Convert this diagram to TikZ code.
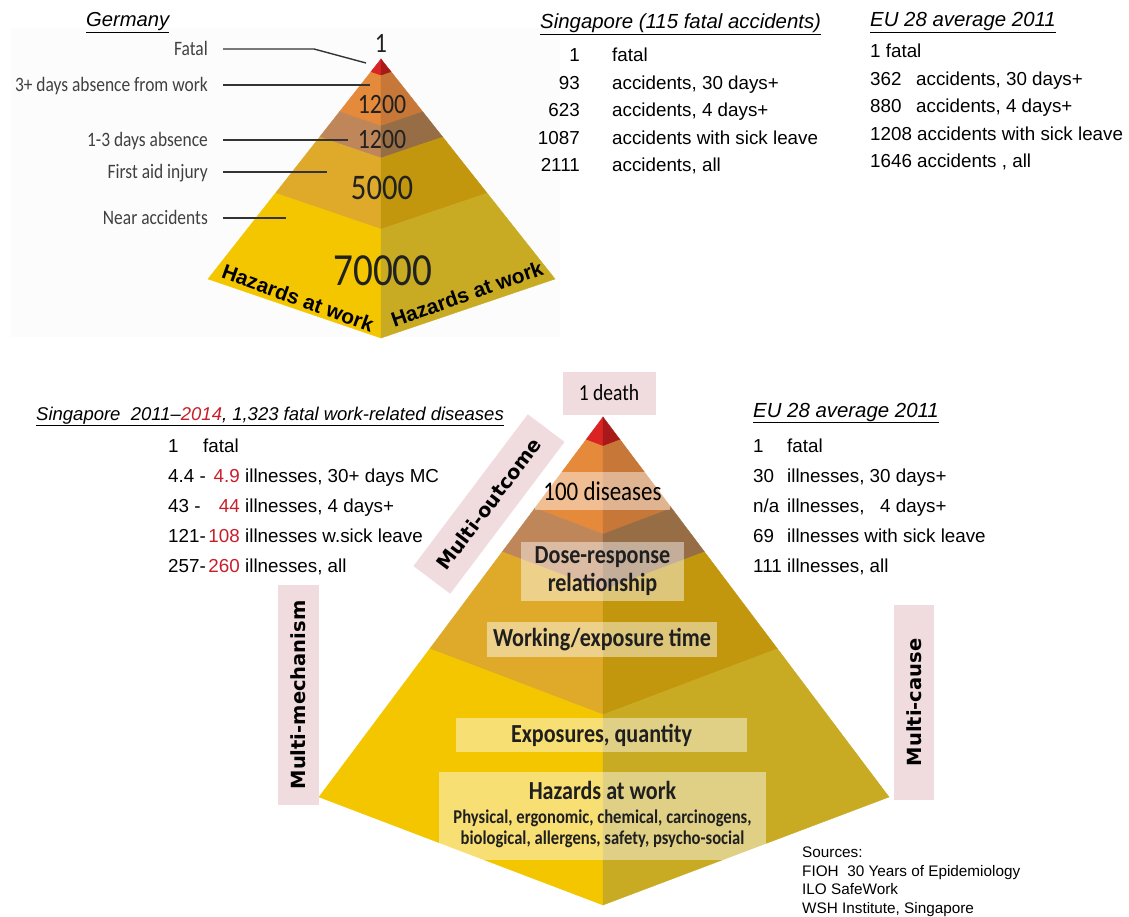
\documentclass[tikz,border=0pt]{standalone}
\usepackage{fontspec}
\setmainfont{Liberation Sans}
\newfontfamily\condfont[FakeStretch=0.85]{Carlito}
\newfontfamily\tagfont{DejaVu Sans}
\usetikzlibrary{calc}

\definecolor{redL}{HTML}{DA2424}
\definecolor{redR}{HTML}{A81A1A}
\definecolor{orgL}{HTML}{E5893A}
\definecolor{orgR}{HTML}{C77838}
\definecolor{brnL}{HTML}{BF8659}
\definecolor{brnR}{HTML}{976D46}
\definecolor{gldL}{HTML}{DFAA2A}
\definecolor{gldR}{HTML}{C2970E}
\definecolor{ylwL}{HTML}{F3C600}
\definecolor{ylwR}{HTML}{C8AB22}
\definecolor{pinkbox}{HTML}{F0DCDE}
\definecolor{sgred}{HTML}{C8202A}

\newcommand{\fsz}[2]{\fontsize{#1}{#2}\selectfont}

\begin{document}
\begin{tikzpicture}[x=1pt, y=-1pt,
    every node/.style={inner sep=0pt},
    heading/.style={anchor=base west, font=\fsz{20.4}{24}\itshape},
    row/.style={font=\fsz{18.8}{22}},
    num/.style={font=\condfont\fsz{28}{30}, text=black!87},
    side/.style={anchor=east, text height=13.2pt, text depth=0pt,
        font=\condfont\fsz{20.5}{24}, text=black!75},
    leader/.style={draw=black!80, line width=1.4pt},
    face/.style={font=\bfseries\fsz{20.8}{24}},
    layer/.style={font=\condfont\bfseries\fsz{26}{28}, align=center, text=black!88},
    veil/.style={fill=white, fill opacity=0.45, text opacity=1},
    multi/.style={fill=pinkbox, font=\tagfont\bfseries\fsz{19.5}{22}}]

    \useasboundingbox (0,0) rectangle (1129,917);
    \fill[white] (0,0) rectangle (1129,917);
    \fill[black!1.2] (11,28) rectangle (560,337);

    % corners of the two pyramids (apex, left, right, bottom)
    \coordinate (gA) at (381,59);
    \coordinate (gL) at (208,279);
    \coordinate (gR) at (555,279);
    \coordinate (gB) at (381,338);
    \coordinate (dA) at (603,417);
    \coordinate (dL) at (319,797);
    \coordinate (dR) at (889,797);
    \coordinate (dB) at (603,905);

    \foreach \p in {g,d}{
        \foreach \ta/\tb/\cl/\cr in {0/0.06/redL/redR, 0.06/0.24/orgL/orgR,
                0.24/0.355/brnL/brnR, 0.355/0.61/gldL/gldR, 0.61/1/ylwL/ylwR}{
            \filldraw[draw=\cl, fill=\cl, line width=.4pt]
                ($(\p A)!\ta!(\p L)$) -- ($(\p A)!\tb!(\p L)$)
                -- ($(\p A)!\tb!(\p B)$) -- ($(\p A)!\ta!(\p B)$) -- cycle;
            \filldraw[draw=\cr, fill=\cr, line width=.4pt]
                ($(\p A)!\ta!(\p B)$) -- ($(\p A)!\tb!(\p B)$)
                -- ($(\p A)!\tb!(\p R)$) -- ($(\p A)!\ta!(\p R)$) -- cycle;
        }
    }

    % Germany
    \node[heading, font=\fsz{20.2}{24}\itshape] (geHead) at (86,27) {\underline{Germany}};
    \node[num] (gOne) at (381,43) {1};
    \node[num] (gTwelveA) at (382,105) {1200};
    \node[num] (gTwelveB) at (382,140) {1200};
    \node[num, font=\condfont\fsz{36}{38}] (gFive) at (382,188) {5000};
    \node[num, font=\condfont\fsz{46}{48}] (gSeventy) at (383,271) {70000};
    \node[face, rotate=-20] (gHazL) at (298,298) {Hazards at work};
    \node[face, rotate=19.5] (gHazR) at (467,294) {Hazards at work};

    \node[side] (lFatal) at (208,49) {Fatal};
    \coordinate (eFatal) at (366,63);
    \draw[leader] ([xshift=15pt]lFatal.east) -- ++(91,0) -- (eFatal);
    \foreach \nm/\yy/\xe/\txt in {days3/85/370/3+ days absence from work,
            days13/140/348/1-3 days absence, aid/172/327/First aid injury,
            near/218/286/Near accidents}{
        \node[side] (l\nm) at (208,\yy) {\txt};
        \coordinate (e\nm) at (\xe,\yy);
        \draw[leader] ([xshift=15pt]l\nm.east) -- (e\nm);
    }

    % Singapore accidents
    \node[heading] (sgHead) at (540,29) {\underline{Singapore (115 fatal accidents)}};
    \foreach \nm/\yy/\num/\txt in {a/62/1/fatal, b/90/93/{accidents, 30 days+},
            c/117/623/{accidents, 4 days+}, d/145/1087/accidents with sick leave,
            e/172/2111/{accidents, all}}{
        \node[row, anchor=base east] (sgN\nm) at (580,\yy) {\num};
        \node[row, anchor=base west] (sgT\nm) at (612,\yy) {\txt};
    }

    % EU accidents
    \node[heading] (euHead) at (870,27) {\underline{EU 28 average 2011}};
    \node[row, anchor=base west] (euA) at (870,58) {1 fatal};
    \node[row, anchor=base west] (euBn) at (870,86) {362};
    \node[row, anchor=base west] (euBt) at (916,86) {accidents, 30 days+};
    \node[row, anchor=base west] (euCn) at (870,113) {880};
    \node[row, anchor=base west] (euCt) at (916,113) {accidents, 4 days+};
    \node[row, anchor=base west] (euD) at (870,141) {1208 accidents with sick leave};
    \node[row, anchor=base west] (euE) at (870,168) {1646 accidents , all};

    % disease pyramid labels
    \node[fill=pinkbox, minimum width=93, minimum height=43,
        font=\condfont\fsz{23}{25}] (dDeath) at (609,393) {1 death};
    \node[veil, minimum width=135, minimum height=38,
        font=\condfont\fsz{27}{29}] (dDis) at (602.5,491) {100 diseases};
    \node[veil, layer, minimum width=163, minimum height=59] (dDose) at (602.5,571.5)
        {Dose-response\\relationship};
    \node[veil, layer, minimum width=230, minimum height=35] (dWork) at (602,639.5)
        {Working/exposure time};
    \node[veil, layer, minimum width=291, minimum height=34] (dExp) at (601.5,735)
        {Exposures, quantity};
    \node[veil, minimum width=327, minimum height=88] (dHazBox) at (602.5,816) {};
    \node[layer] (dHaz) at (602.5,790) {Hazards at work};
    \node[layer, font=\condfont\bfseries\fsz{19.5}{20.5}] (dHazList) at (602.5,829)
        {Physical, ergonomic, chemical, carcinogens,\\biological, allergens, safety, psycho-social};

    \node[multi, rotate=53, minimum width=190, minimum height=46] (mOut) at (489,504) {Multi-outcome};
    \node[multi, rotate=90, minimum width=220, minimum height=41] (mMech) at (298.5,695) {Multi-mechanism};
    \node[multi, rotate=90, minimum width=195, minimum height=40] (mCause) at (914,702.5) {Multi-cause};

    % Singapore diseases
    \node[heading, font=\fsz{18.5}{22}\itshape] (sdHead) at (36,420)
        {\underline{Singapore\ \ 2011--\textcolor{sgred}{2014}, 1,323 fatal work-related diseases}};
    \node[row, anchor=base west] (sdAn) at (168,452) {1};
    \node[row, anchor=base west] (sdAt) at (203,452) {fatal};
    \foreach \nm/\yy/\pre/\red/\txt in {b/482/4.4 -/4.9/{illnesses, 30+ days MC},
            c/512/43 -/44/{illnesses, 4 days+}, d/542/121-/108/illnesses w.sick leave,
            e/572/257-/260/{illnesses, all}}{
        \node[row, anchor=base west] (sd\nm p) at (168,\yy) {\pre};
        \node[row, anchor=base east, text=sgred] (sd\nm r) at (240,\yy) {\red};
        \node[row, anchor=base west] (sd\nm t) at (245,\yy) {\txt};
    }

    % EU diseases
    \node[heading] (edHead) at (753,417) {\underline{EU 28 average 2011}};
    \foreach \nm/\yy/\num/\txt in {a/452/1/fatal, b/482/30/{illnesses, 30 days+},
            c/512/{n/a}/{illnesses, \phantom{3}4 days+}, d/542/69/illnesses with sick leave,
            e/572/111/{illnesses, all}}{
        \node[row, anchor=base west] (ed\nm n) at (753,\yy) {\num};
        \node[row, anchor=base west] (ed\nm t) at (787,\yy) {\txt};
    }

    \foreach \nm/\yy/\txt in {a/857/Sources:, b/876/FIOH\ \ 30 Years of Epidemiology,
            c/894/ILO SafeWork, d/913/{WSH Institute, Singapore}}{
        \node[anchor=base west, font=\fsz{15.3}{18}] (src\nm) at (802,\yy) {\txt};
    }
\end{tikzpicture}
\end{document}
